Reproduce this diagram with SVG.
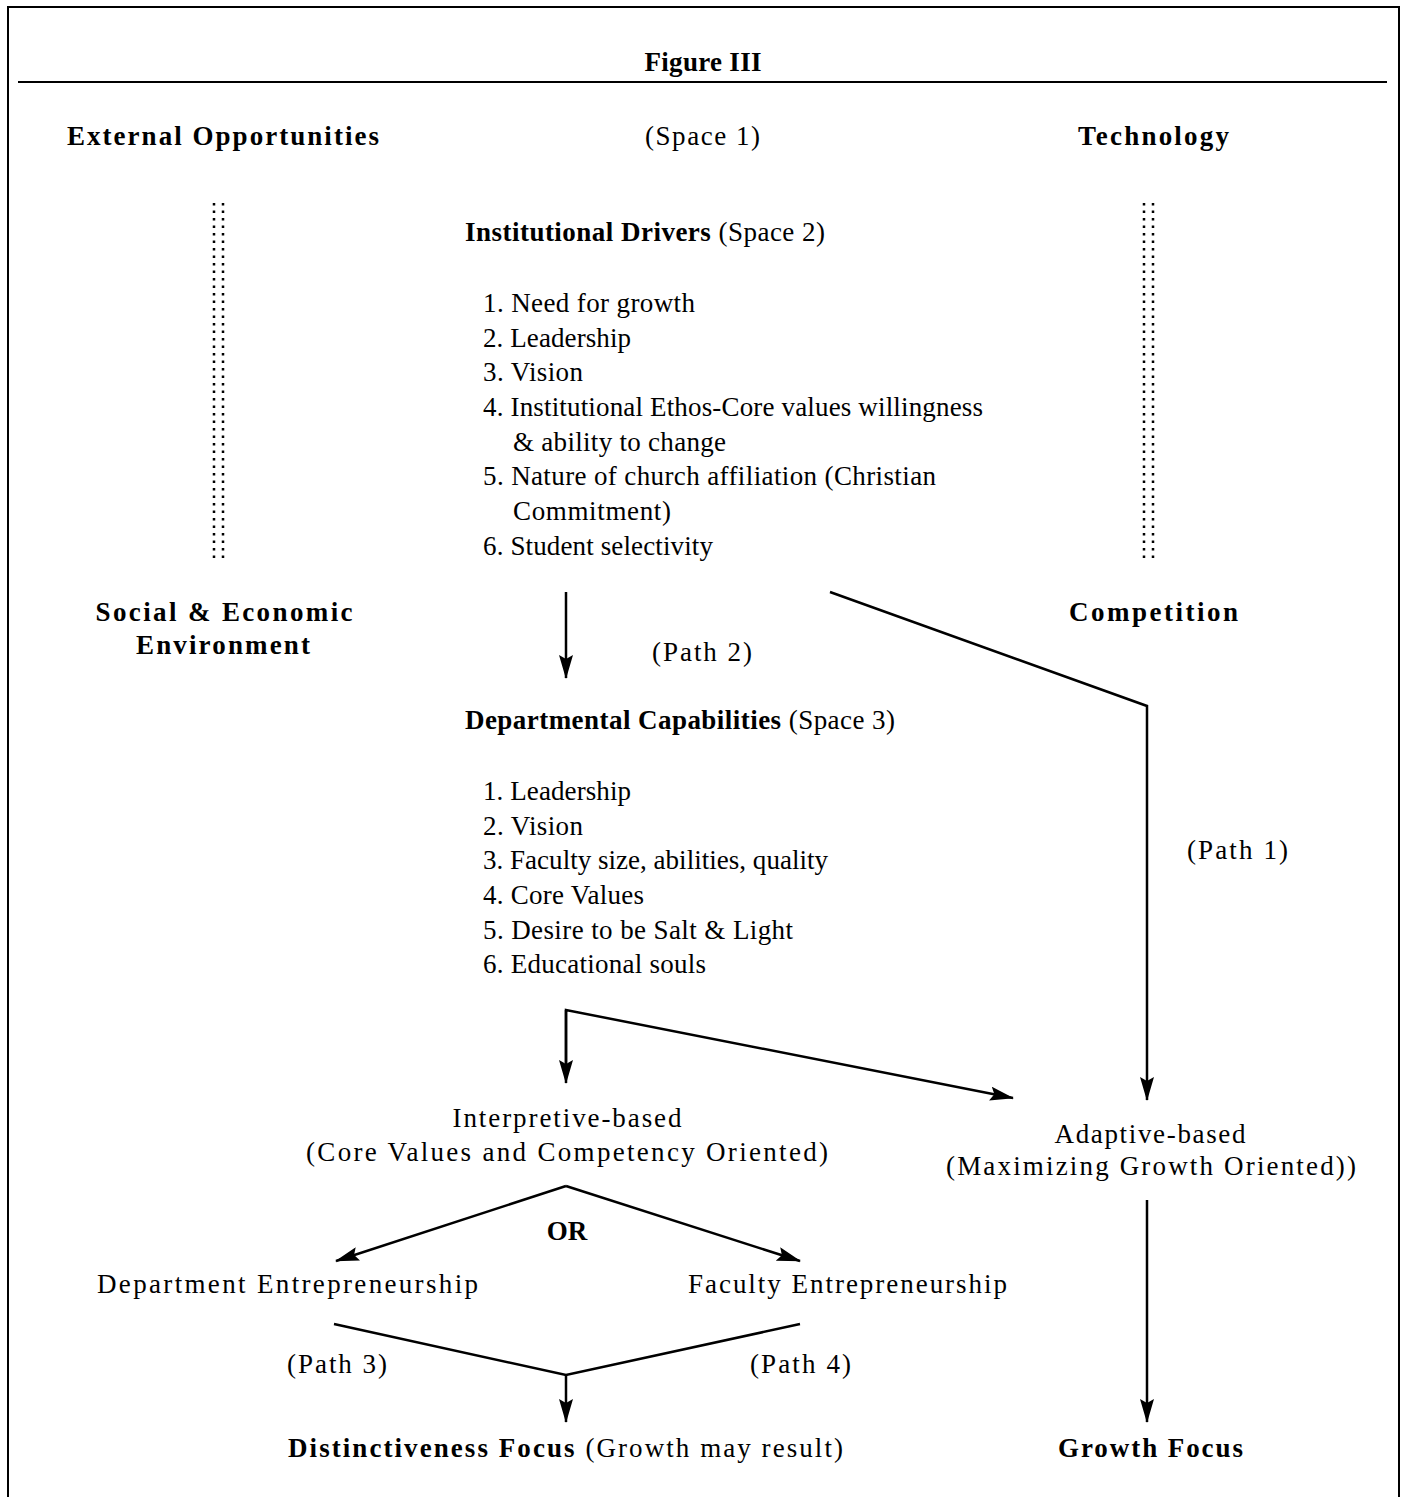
<svg xmlns="http://www.w3.org/2000/svg" width="1403" height="1497" viewBox="0 0 1403 1497">
<style>
text{font-family:"Liberation Serif","Times New Roman",serif;fill:#000;font-size:27px}
.b{font-weight:bold;font-size:27px}
.bb{font-weight:bold}
.c{text-anchor:middle}
.ln{stroke:#000;stroke-width:2.5;fill:none}
.dot{stroke:#000;stroke-width:2.5;stroke-dasharray:2.5 5;fill:none}
</style>
<defs>
<marker id="ah" viewBox="0 0 24 14" refX="23" refY="7" markerWidth="24" markerHeight="14" markerUnits="userSpaceOnUse" orient="auto">
<path d="M0,0 L24,7 L0,14 L4,7 Z" fill="#000"/>
</marker>
</defs>
<rect x="8" y="7" width="1391" height="1510" fill="none" stroke="#000" stroke-width="2"/>
<line x1="18" y1="82" x2="1387" y2="82" stroke="#000" stroke-width="2"/>

<g id="title"><text class="b c" x="703" y="71" textLength="117">Figure III</text></g>
<g id="external"><text class="b" x="67" y="145" textLength="312">External Opportunities</text></g>
<g id="space1"><text x="645" y="145" textLength="115">(Space 1)</text></g>
<g id="technology"><text class="b" x="1078" y="145" textLength="151">Technology</text></g>
<g id="social"><text class="b c" x="224" y="621" textLength="257">Social &amp; Economic</text><text class="b c" x="223" y="654" textLength="174">Environment</text></g>
<g id="competition"><text class="b" x="1069" y="621" textLength="169">Competition</text></g>

<g id="dotted">
<line class="dot" x1="214" y1="203" x2="214" y2="558"/>
<line class="dot" x1="223" y1="203" x2="223" y2="558"/>
<line class="dot" x1="1144" y1="203" x2="1144" y2="558"/>
<line class="dot" x1="1153" y1="203" x2="1153" y2="558"/>
</g>

<g id="institutional">
<text x="465" y="241" textLength="360"><tspan class="bb">Institutional Drivers</tspan> (Space 2)</text>
<text x="483" y="312" textLength="212">1. Need for growth</text>
<text x="483" y="347" textLength="148">2. Leadership</text>
<text x="483" y="381" textLength="100">3. Vision</text>
<text x="483" y="416" textLength="500">4. Institutional Ethos-Core values willingness</text>
<text x="513" y="451" textLength="213">&amp; ability to change</text>
<text x="483" y="485" textLength="453">5. Nature of church affiliation (Christian</text>
<text x="513" y="520" textLength="158">Commitment)</text>
<text x="483" y="555" textLength="230">6. Student selectivity</text>
</g>

<g id="departmental">
<text x="465" y="729" textLength="430"><tspan class="bb">Departmental Capabilities</tspan> (Space 3)</text>
<text x="483" y="800" textLength="148">1. Leadership</text>
<text x="483" y="835" textLength="100">2. Vision</text>
<text x="483" y="869" textLength="345">3. Faculty size, abilities, quality</text>
<text x="483" y="904" textLength="161">4. Core Values</text>
<text x="483" y="939" textLength="310">5. Desire to be Salt &amp; Light</text>
<text x="483" y="973" textLength="223">6. Educational souls</text>
</g>

<g id="path-labels">
<text x="652" y="661" textLength="100">(Path 2)</text>
<text x="1187" y="859" textLength="101">(Path 1)</text>
<text x="287" y="1373" textLength="100">(Path 3)</text>
<text x="750" y="1373" textLength="101">(Path 4)</text>
<text class="b c" x="567" y="1240">OR</text>
</g>

<g id="interpretive">
<text class="c" x="567" y="1127" textLength="229">Interpretive-based</text>
<text class="c" x="567" y="1161" textLength="522">(Core Values and Competency Oriented)</text>
</g>
<g id="adaptive">
<text class="c" x="1150" y="1143" textLength="191">Adaptive-based</text>
<text class="c" x="1151" y="1175" textLength="410">(Maximizing Growth Oriented))</text>
</g>
<g id="dept-ent"><text x="97" y="1293" textLength="381">Department Entrepreneurship</text></g>
<g id="fac-ent"><text x="688" y="1293" textLength="319">Faculty Entrepreneurship</text></g>
<g id="distinct"><text x="288" y="1457" textLength="555"><tspan class="bb">Distinctiveness Focus</tspan> (Growth may result)</text></g>
<g id="growth"><text class="b" x="1058" y="1457" textLength="185">Growth Focus</text></g>

<g id="connectors">
<line class="ln" x1="566" y1="592" x2="566" y2="678" marker-end="url(#ah)"/>
<polyline class="ln" points="830,592 1147,706 1147,1100" marker-end="url(#ah)"/>
<polyline class="ln" points="566,1063 566,1010 1013,1098" marker-end="url(#ah)"/>
<line class="ln" x1="566" y1="1010" x2="566" y2="1083" marker-end="url(#ah)"/>
<polyline class="ln" points="566,1186 336,1261" marker-end="url(#ah)"/>
<polyline class="ln" points="566,1186 800,1261" marker-end="url(#ah)"/>
<polyline class="ln" points="334,1324 566,1375 800,1324"/>
<line class="ln" x1="566" y1="1375" x2="566" y2="1422" marker-end="url(#ah)"/>
<line class="ln" x1="1147" y1="1200" x2="1147" y2="1422" marker-end="url(#ah)"/>
</g>
</svg>
